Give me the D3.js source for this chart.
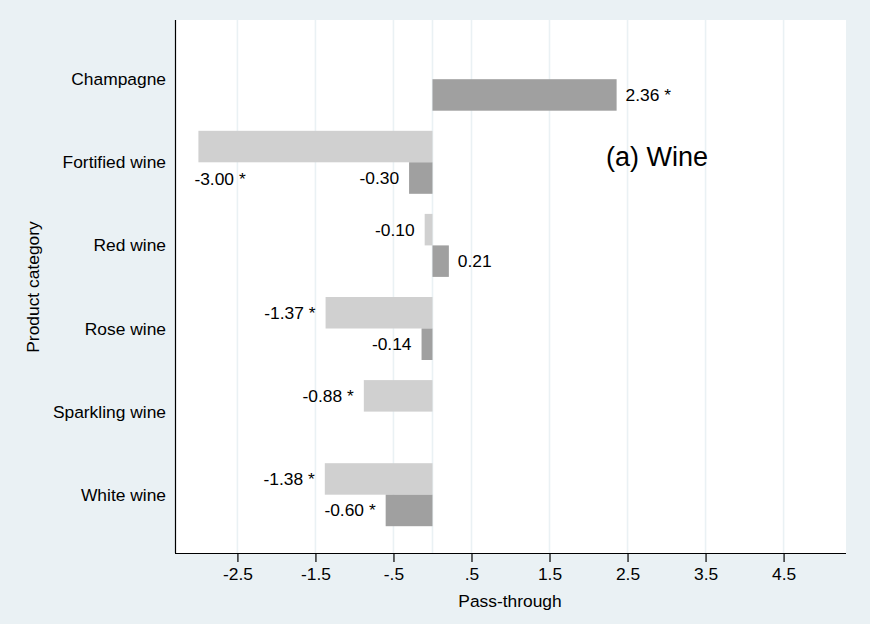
<!DOCTYPE html>
<html>
<head>
<meta charset="utf-8">
<script src="https://cdn.jsdelivr.net/npm/d3@7"></script>
<style>
  body { margin: 0; background: #eaf1f4; }
  svg { display: block; font-family: "Liberation Sans", Arial, sans-serif; }
</style>
</head>
<body>
<script>
// Data
const categories = ["Champagne", "Fortified wine", "Red wine", "Rose wine", "Sparkling wine", "White wine"];
// light bars (first series) and dark bars (second series); null = no bar
const lightValues = [null, -3.00, -0.10, -1.37, -0.88, -1.38];
const lightSig = [false, true, false, true, true, true];
const darkValues = [2.36, -0.30, 0.21, -0.14, null, -0.60];
const darkSig = [true, false, false, false, false, true];
const tickValues = [-2.5, -1.5, -0.5, 0.5, 1.5, 2.5, 3.5, 4.5];

let width = 870,
    height = 624;

let margin = { top: 20, bottom: 71, left: 175, right: 24 };

let svg = d3.select("body")
    .append("svg")
    .attr("width", width)
    .attr("height", height);

// background
svg.append("rect")
    .attr("width", width)
    .attr("height", height)
    .attr("fill", "#eaf1f4");

// plot region
svg.append("rect")
    .attr("x", margin.left)
    .attr("y", margin.top)
    .attr("width", width - margin.left - margin.right)
    .attr("height", height - margin.top - margin.bottom)
    .attr("fill", "#ffffff");

let xScale = d3.scaleLinear()
    .domain([-3.3, 5.3])
    .range([margin.left, width - margin.right]);

let yScale = d3.scalePoint()
    .domain(categories)
    .range([79.2, 494.7]);

const barH = 31.5;

// gridlines (ticks and zero)
svg.append("g")
    .selectAll("line")
    .data(tickValues.concat([0]))
    .enter()
    .append("line")
    .attr("x1", d => xScale(d))
    .attr("x2", d => xScale(d))
    .attr("y1", margin.top)
    .attr("y2", height - margin.bottom)
    .attr("stroke", "#eaf1f4")
    .attr("stroke-width", 1.6);

// build rows
const rows = [];
categories.forEach((c, i) => {
    if (lightValues[i] !== null) rows.push({ cat: c, v: lightValues[i], sig: lightSig[i], s: 0 });
    if (darkValues[i] !== null) rows.push({ cat: c, v: darkValues[i], sig: darkSig[i], s: 1 });
});

const colors = ["#d0d0d0", "#a0a0a0"];

svg.append("g")
    .selectAll("rect")
    .data(rows)
    .enter()
    .append("rect")
    .attr("x", d => Math.min(xScale(0), xScale(d.v)))
    .attr("width", d => Math.abs(xScale(d.v) - xScale(0)))
    .attr("y", d => yScale(d.cat) - barH + d.s * barH)
    .attr("height", barH)
    .attr("fill", d => colors[d.s]);

// value labels (plain hyphen minus, as in the original)
const fmt = v => v.toFixed(2);
svg.append("g")
    .selectAll("text")
    .data(rows)
    .enter()
    .append("text")
    .each(function(d) {
        const end = xScale(d.v);
        const mid = yScale(d.cat) - barH / 2 + d.s * barH;
        const t = d3.select(this);
        const txt = fmt(d.v) + (d.sig ? " *" : "");
        t.text(txt).attr("font-size", 17.4).attr("fill", "#000");
        if (d.v >= 0) {
            t.attr("x", end + 9).attr("y", mid + 6).attr("text-anchor", "start");
        } else if (end - 70 < xScale.range()[0]) {
            // no room on the left: place under the bar
            t.attr("x", end - 4).attr("y", mid + barH + 7).attr("text-anchor", "start");
        } else {
            t.attr("x", end - 10).attr("y", mid + 6).attr("text-anchor", "end");
        }
    });

// y axis (category labels)
svg.append("line")
    .attr("x1", margin.left + 0.5)
    .attr("x2", margin.left + 0.5)
    .attr("y1", margin.top)
    .attr("y2", height - margin.bottom)
    .attr("stroke", "#000")
    .attr("stroke-width", 1.2);

svg.append("g")
    .selectAll("text")
    .data(categories)
    .enter()
    .append("text")
    .attr("x", margin.left - 9)
    .attr("y", d => yScale(d) + 6)
    .attr("text-anchor", "end")
    .attr("font-size", 17.4)
    .text(d => d);

// x axis
let xAxis = svg.append("g")
    .attr("transform", `translate(0,${height - margin.bottom})`)
    .call(d3.axisBottom(xScale)
        .tickValues(tickValues)
        .tickSize(9)
        .tickPadding(6)
        .tickFormat(d => String(d).replace(/^(-?)0\./, "$1.")));

xAxis.select(".domain")
    .attr("stroke", "#000")
    .attr("stroke-width", 1.2)
    .attr("d", `M${margin.left},0.5H${width - margin.right}`);
xAxis.selectAll(".tick line").attr("stroke", "#000").attr("stroke-width", 1.2);
xAxis.selectAll(".tick text")
    .attr("font-size", 17.4)
    .attr("font-family", "Liberation Sans, Arial, sans-serif")
    .attr("fill", "#000");

// axis titles
svg.append("text")
    .attr("x", 510)
    .attr("y", 607)
    .attr("text-anchor", "middle")
    .attr("font-size", 17.4)
    .text("Pass-through");

svg.append("text")
    .attr("transform", "rotate(-90)")
    .attr("x", -287)
    .attr("y", 39)
    .attr("text-anchor", "middle")
    .attr("font-size", 17.4)
    .text("Product category");

// panel title
svg.append("text")
    .attr("x", 606)
    .attr("y", 166)
    .attr("font-size", 27)
    .text("(a) Wine");
</script>
</body>
</html>
